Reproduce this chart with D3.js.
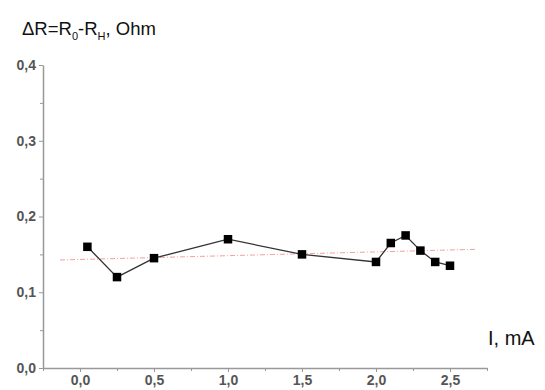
<!DOCTYPE html>
<html>
<head>
<meta charset="utf-8">
<script src="https://cdn.jsdelivr.net/npm/d3@7"></script>
<style>
  body { margin: 0; background: #fff; }
  svg { display: block; font-family: Arial, "Liberation Sans", sans-serif; }
</style>
</head>
<body>
<div id="chart"></div>
<script>
// measured values, current (mA) vs resistance difference (Ohm)
const currentMA = [0.05, 0.25, 0.5, 1.0, 1.5, 2.0, 2.1, 2.2, 2.3, 2.4, 2.5];
const deltaR = [0.16, 0.12, 0.145, 0.17, 0.15, 0.14, 0.165, 0.175, 0.155, 0.14, 0.135];

// red dash-dot fit line (end points)
const fitX = [-0.135, 2.68];
const fitY = [0.1426, 0.1567];

const xTicks = [0, 0.5, 1.0, 1.5, 2.0, 2.5];
const yTicks = [0, 0.1, 0.2, 0.3, 0.4];

const width = 545, height = 390;
const margin = { left: 43, right: 58, top: 65, bottom: 22 };

const svg = d3.select("#chart").append("svg")
  .attr("width", width)
  .attr("height", height);

const x = d3.scaleLinear().domain([-0.25, 2.75]).range([margin.left, width - margin.right]);
const y = d3.scaleLinear().domain([0, 0.4]).range([height - margin.bottom, margin.top]);

const fmt = d => d3.format(".1f")(d).replace(".", ",");
const axisColor = "#999";
const labelColor = "#555";

// minor ticks
const xMinor = d3.range(-0.25, 2.76, 0.25);
const yMinor = d3.range(0.05, 0.4, 0.1);

svg.append("g")
  .attr("transform", `translate(0,${y(0)})`)
  .call(d3.axisBottom(x).tickValues(xMinor).tickSize(3).tickFormat(""))
  .call(g => g.select(".domain").remove())
  .selectAll("line").attr("stroke", axisColor);

svg.append("g")
  .attr("transform", `translate(${x(-0.25)},0)`)
  .call(d3.axisLeft(y).tickValues(yMinor).tickSize(3).tickFormat(""))
  .call(g => g.select(".domain").remove())
  .selectAll("line").attr("stroke", axisColor);

const xAxis = svg.append("g")
  .attr("transform", `translate(0,${y(0)})`)
  .call(d3.axisBottom(x).tickValues(xTicks).tickSize(4).tickSizeOuter(0).tickPadding(3).tickFormat(fmt));

const yAxis = svg.append("g")
  .attr("transform", `translate(${x(-0.25)},0)`)
  .call(d3.axisLeft(y).tickValues(yTicks).tickSize(4).tickSizeOuter(0).tickPadding(3).tickFormat(fmt));

[xAxis, yAxis].forEach(g => {
  g.select(".domain").attr("stroke", axisColor).attr("stroke-width", 1.5);
  g.selectAll(".tick line").attr("stroke", axisColor);
  g.selectAll(".tick text")
    .attr("fill", labelColor)
    .style("font-size", "14px")
    .style("font-weight", "bold");
});

// fit line
svg.append("path")
  .datum(d3.zip(fitX, fitY))
  .attr("fill", "none")
  .attr("stroke", "#f4a0a0")
  .attr("stroke-width", 1)
  .attr("stroke-dasharray", "5,2,1,2")
  .attr("d", d3.line().x(d => x(d[0])).y(d => y(d[1])));

// data line
const pts = d3.zip(currentMA, deltaR);
svg.append("path")
  .datum(pts)
  .attr("fill", "none")
  .attr("stroke", "#333")
  .attr("stroke-width", 1.3)
  .attr("d", d3.line().x(d => x(d[0])).y(d => y(d[1])));

const sq = 8.5;
svg.append("g")
  .selectAll("rect")
  .data(pts)
  .enter().append("rect")
    .attr("x", d => x(d[0]) - sq / 2)
    .attr("y", d => y(d[1]) - sq / 2)
    .attr("width", sq)
    .attr("height", sq)
    .attr("fill", "#000");

// y axis title
const title = svg.append("text")
  .attr("x", 22)
  .attr("y", 35)
  .attr("fill", "#111")
  .style("font-size", "18.5px");
title.append("tspan").text("\u0394R=R");
title.append("tspan").attr("dy", 5).style("font-size", "11px").text("0");
title.append("tspan").attr("dy", -5).text("-R");
title.append("tspan").attr("dy", 5).style("font-size", "11px").text("H");
title.append("tspan").attr("dy", -5).text(", Ohm");

// x axis title
svg.append("text")
  .attr("x", 488)
  .attr("y", 345)
  .attr("fill", "#111")
  .style("font-size", "20px")
  .text("I, mA");
</script>
</body>
</html>
